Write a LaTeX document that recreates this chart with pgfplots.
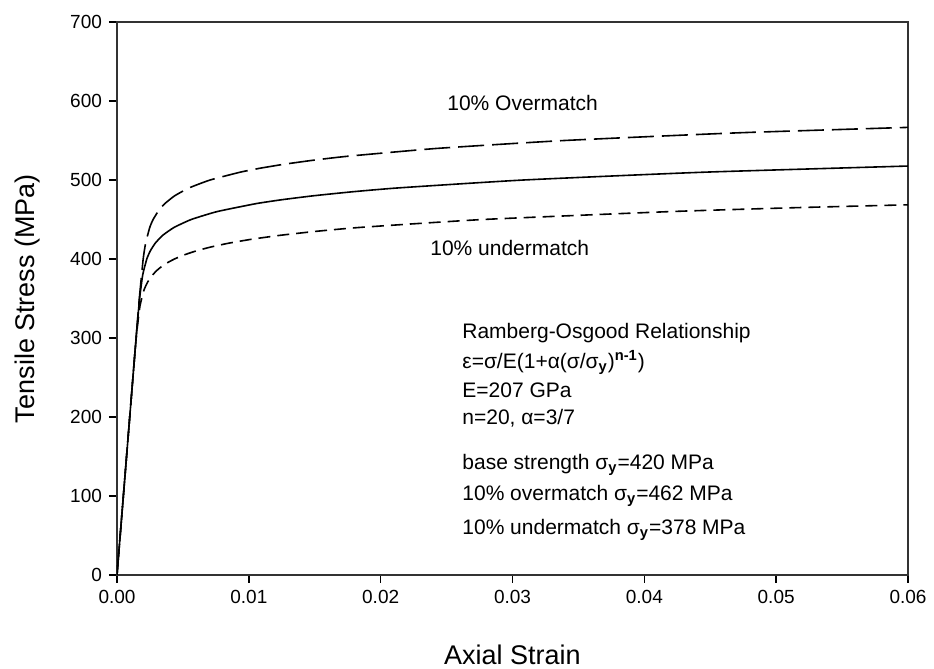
\documentclass[border=0pt]{standalone}
\usepackage{pgfplots}
\pgfplotsset{compat=1.18}
\usepackage{fontspec}
\setmainfont{Liberation Sans}
\begin{document}
\begin{tikzpicture}
\path[use as bounding box] (-58.5pt,-47pt) rectangle (408.5pt,287.5pt);
\begin{axis}[
  scale only axis,
  width=395.5pt, height=276.5pt,
  xmin=0, xmax=0.06, ymin=0, ymax=700,
  xtick={0,0.01,0.02,0.03,0.04,0.05,0.06},
  ytick={0,100,200,300,400,500,600,700},
  xtick pos=bottom, ytick pos=left,
  tick align=outside,
  major tick length=4pt,
  axis line style={line width=0.9pt, black!80},
  every tick/.style={line width=0.8pt, black},
  /pgf/number format/assume math mode=true,
  xticklabel style={/pgf/number format/.cd, fixed, fixed zerofill, precision=2, /tikz/.cd, font=\fontsize{9.5}{11}\selectfont},
  yticklabel style={font=\fontsize{9.5}{11}\selectfont},
  scaled x ticks=false,
  every axis x label/.style={at={(axis description cs:0.5,-0.145)}, anchor=center, font=\fontsize{13.5}{15}\selectfont},
  every axis y label/.style={at={(axis description cs:-0.1125,0.5)}, rotate=90, anchor=center, font=\fontsize{13.5}{15}\selectfont},
  xlabel={Axial Strain},
  ylabel={Tensile Stress (MPa)},
]
% base, sigma_y = 420 MPa
\addplot[black, line width=0.8pt, smooth, tension=0.3] coordinates {
(0,0) (0.000483,100) (0.000966,200) (0.001450,300) (0.001714,350) (0.001953,380)
(0.002260,400) (0.002518,410) (0.002899,420) (0.003469,430) (0.004331,440)
(0.005630,450) (0.007587,460) (0.010519,470) (0.012486,475) (0.014884,480)
(0.017802,485) (0.021344,490) (0.030845,500) (0.044716,510) (0.064787,520)
};
% overmatch, sigma_y = 462 MPa
\addplot[black, line width=0.8pt, smooth, tension=0.3, dash pattern=on 13pt off 4pt] coordinates {
(0,0) (0.000483,100) (0.000966,200) (0.001449,300) (0.001694,350) (0.001986,400)
(0.002171,420) (0.002486,440) (0.002739,450) (0.003188,462) (0.003619,470)
(0.004373,480) (0.005470,490) (0.007063,500) (0.009370,510) (0.010882,515)
(0.012696,520) (0.014870,525) (0.017462,530) (0.024277,540) (0.033930,550)
(0.047540,560) (0.066610,570)
};
% undermatch, sigma_y = 378 MPa
\addplot[black, line width=0.8pt, smooth, tension=0.3, dash pattern=on 6pt off 3.5pt] coordinates {
(0,0) (0.000483,100) (0.000966,200) (0.001457,300) (0.001737,340) (0.002034,360)
(0.002298,370) (0.002609,378) (0.002990,385) (0.003346,390) (0.003795,395)
(0.004358,400) (0.005067,405) (0.005957,410) (0.007071,415) (0.008467,420)
(0.010208,425) (0.012383,430) (0.015088,435) (0.018450,440) (0.027760,450)
(0.041930,460) (0.051530,465) (0.063330,470)
};
\begin{scope}[every node/.style={anchor=west, inner sep=0pt, font=\fontsize{10.5}{12}\selectfont}]
\node at (axis cs:0.02503,597) {10\% Overmatch};
\node at (axis cs:0.02374,414) {10\% undermatch};
\node at (axis cs:0.02617,306) {Ramberg-Osgood Relationship};
\node at (axis cs:0.02617,269) {ε=σ/E(1+α(σ/σ\textsubscript{\textbf{y}})\textsuperscript{\textbf{n-1}})};
\node at (axis cs:0.02617,234) {E=207 GPa};
\node at (axis cs:0.02617,199) {n=20, α=3/7};
\node at (axis cs:0.02617,139) {base strength σ\textsubscript{\textbf{y}}=420 MPa};
\node at (axis cs:0.02617,100) {10\% overmatch σ\textsubscript{\textbf{y}}=462 MPa};
\node at (axis cs:0.02617,57) {10\% undermatch σ\textsubscript{\textbf{y}}=378 MPa};
\end{scope}
\end{axis}
\end{tikzpicture}
\end{document}
